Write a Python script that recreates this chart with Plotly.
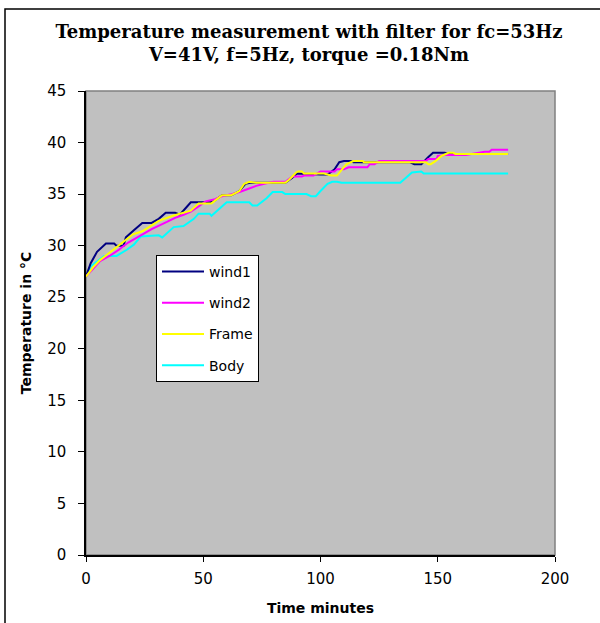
import plotly.graph_objects as go

# ---- data ----
wind1_t = [0, 2, 4.7, 8.5, 12, 13, 16, 17, 20.4, 24, 28, 31, 34, 38, 40, 44.7, 53, 55, 58, 62, 65.4, 68, 70,
           85, 88, 90, 100, 103, 106, 108, 110, 113, 114, 118, 138, 140, 143, 146, 148, 153, 155, 180]
wind1_v = [27, 28.3, 29.4, 30.2, 30.2, 30.0, 30.0, 30.8, 31.5, 32.2, 32.2, 32.6, 33.2, 33.2, 33.0, 34.2, 34.2, 34.4, 34.9, 34.9, 35.3, 36.0, 36.1,
           36.1, 36.6, 37.0, 36.9, 36.9, 37.4, 38.1, 38.2, 38.2, 38.1, 38.1, 38.1, 37.9, 37.9, 38.6, 39.0, 39.0, 38.9, 38.9]

wind2_t = [0, 3, 6, 10, 14, 18, 24, 28, 34.5, 38, 41.6, 44.7, 48, 51, 55, 58, 62, 65.5, 69, 72.6, 76, 80, 85, 88, 92, 93, 97,
           100, 106, 107, 110, 112, 120, 121, 123, 125, 145, 146, 149.5, 150, 153, 162, 170, 172, 173, 180]
wind2_v = [27, 27.8, 28.5, 29.0, 29.6, 30.3, 31.1, 31.6, 32.3, 32.7, 33.0, 33.3, 33.8, 34.3, 34.5, 34.8, 35.0, 35.2, 35.5, 35.8, 36.0, 36.2, 36.2, 36.7, 36.7, 36.8, 36.8,
           37.2, 37.2, 37.4, 37.4, 37.6, 37.6, 37.9, 37.9, 38.2, 38.2, 38.4, 38.4, 38.7, 38.8, 38.8, 39.1, 39.1, 39.3, 39.3]

frame_t = [0, 3, 6, 10.5, 16, 20, 24, 27.6, 31, 37, 41.6, 44.7, 48, 53.5, 58, 62, 65.4, 67.5, 69.6, 72.6, 85, 86.6, 89.6, 90.5, 92, 93,
           101.5, 104.5, 107, 108.6, 111, 114, 118, 118.5, 145, 146, 147, 149, 151.6, 154.6, 156.7, 157.5, 180]
frame_v = [27, 27.9, 28.6, 29.4, 30.4, 31.1, 31.4, 31.9, 32.4, 32.9, 33.2, 33.4, 34.1, 34.1, 34.9, 34.9, 35.3, 36.0, 36.2, 36.1, 36.1, 36.4, 37.1, 37.2, 37.2, 37.0,
           37.0, 36.8, 36.8, 37.2, 37.9, 38.2, 38.2, 38.1, 38.1, 37.9, 37.9, 38.2, 38.7, 39.0, 39.0, 38.9, 38.9]

body_t = [0, 2, 7.7, 13, 17.4, 20.4, 23.4, 31, 32.5, 37.4, 41.6, 46, 48, 52.7, 53.5, 55.6, 60, 69.6, 71, 73, 77, 79.6, 83.7, 85,
          94, 96, 98, 100, 103, 105, 107, 109, 134, 139, 143, 144, 180]
body_v = [27, 28, 29, 29, 29.6, 30.1, 30.9, 31.0, 30.8, 31.8, 31.9, 32.6, 33.1, 33.1, 32.9, 33.3, 34.2, 34.2, 33.9, 33.9, 34.6, 35.2, 35.2, 35.0,
          35.0, 34.8, 34.8, 35.3, 36.0, 36.2, 36.2, 36.1, 36.1, 37.1, 37.2, 37.0, 37.0]

series_names = ["wind1", "wind2", "Frame", "Body"]
series_colors = ["#000080", "#FF00FF", "#FFFF00", "#00FFFF"]

x_ticks = [0, 50, 100, 150, 200]
y_ticks = [0, 5, 10, 15, 20, 25, 30, 35, 40, 45]

title_text = "Temperature measurement with filter for fc=53Hz<br>V=41V, f=5Hz, torque =0.18Nm"
x_title = "Time minutes"
y_title = "Temperature in °C"

# ---- figure ----
W, H = 600, 623
L, R, T, B = 86, 45, 91, 68
pw, ph = W - L - R, H - T - B

fig = go.Figure()
data = [(wind1_t, wind1_v), (wind2_t, wind2_v), (frame_t, frame_v), (body_t, body_v)]
# draw order: body first so navy/magenta/yellow sit on top like reference
order = [3, 0, 1, 2]
for i in order:
    t, v = data[i]
    fig.add_trace(go.Scatter(
        x=t, y=v, mode="lines", name=series_names[i], legendgroup=series_names[i],
        legendrank=i + 1,
        line=dict(color=series_colors[i], width=2), hoverinfo="skip"))

def px_to_paper_x(px):
    return (px - L) / pw

def px_to_paper_y(py):
    return (H - B - py) / ph

fig.update_layout(
    width=W, height=H,
    margin=dict(l=L, r=R, t=T, b=B, autoexpand=False),
    paper_bgcolor="white",
    plot_bgcolor="#C0C0C0",
    title=dict(text=title_text, x=0.515, xanchor="center", xref="container",
               y=1 - 38 / H, yanchor="middle", yref="container",
               font=dict(family="DejaVu Serif", size=18, color="black", weight="bold")),
    showlegend=True,
    legend=dict(x=px_to_paper_x(156), y=px_to_paper_y(255), xanchor="left", yanchor="top",
                bgcolor="white", bordercolor="black", borderwidth=1,
                font=dict(family="DejaVu Sans", size=14, color="black"),
                itemwidth=42,
                tracegroupgap=10, traceorder="grouped"),
    xaxis=dict(range=[0, 200], tickvals=x_ticks, ticktext=[str(v) for v in x_ticks],
               automargin=False,
               showgrid=False, zeroline=False, showline=True, linecolor="black", linewidth=1.5,
               ticks="outside", ticklen=5, tickcolor="black", ticklabelstandoff=4,
               tickfont=dict(family="DejaVu Sans", size=15, color="black"),
               title=dict(text=x_title, standoff=16,
                          font=dict(family="DejaVu Sans", size=14, color="black", weight="bold"))),
    yaxis=dict(range=[0, 45], tickvals=y_ticks, ticktext=[str(v) for v in y_ticks],
               automargin=False,
               showgrid=False, zeroline=False, showline=True, linecolor="black", linewidth=1.5,
               ticks="outside", ticklen=6, tickcolor="black", ticklabelstandoff=9,
               tickfont=dict(family="DejaVu Sans", size=15, color="black"),
               title=dict(text=y_title, standoff=12,
                          font=dict(family="DejaVu Sans", size=14, color="black", weight="bold"))),
    shapes=[
        dict(type="rect", xref="x domain", yref="y domain", x0=0, x1=1, y0=0, y1=1,
             line=dict(color="#808080", width=1.5), layer="below"),
        dict(type="rect", xref="paper", yref="paper",
             x0=px_to_paper_x(5), x1=px_to_paper_x(640), y0=px_to_paper_y(670), y1=px_to_paper_y(9),
             line=dict(color="black", width=1.5), fillcolor="rgba(0,0,0,0)", layer="below"),
    ],
)

fig.write_html("out.html", config={"displayModeBar": False},
               post_script="document.body.style.margin='0';")
